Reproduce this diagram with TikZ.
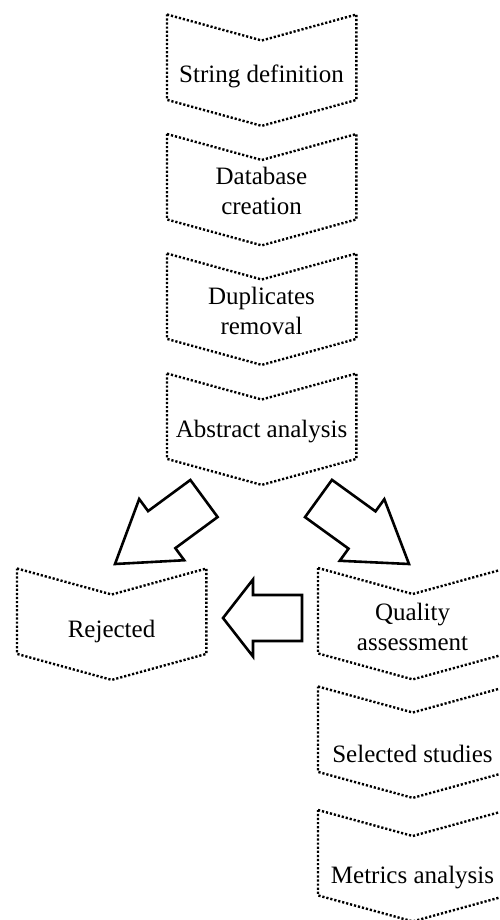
\documentclass[tikz,border=0pt]{standalone}
\usepackage{fontspec}
\setmainfont{Liberation Serif}
\usetikzlibrary{calc}
\tikzset{
  chevbox/.style={rectangle, inner sep=0pt, minimum width=189pt, minimum height=85pt, anchor=north west},
  chevline/.style={line width=2.4pt, dash pattern=on 2.2pt off 1.9pt, line join=miter},
  lbl/.style={font=\fontsize{25}{30}\selectfont, align=center, inner sep=0pt, execute at begin node=\strut},
  blockarrow/.style={line width=2.6pt, line join=miter, fill=white},
}
\newcommand\blockarr[5]{% tail, tip, head length, half shaft width, half head width
  \path coordinate (hb) at ($(#2)!#3!(#1)$);
  \draw[blockarrow] ($(#1)!#4!90:(#2)$) -- ($(hb)!#4!90:(#2)$) -- ($(hb)!#5!90:(#2)$)
     -- (#2) -- ($(hb)!#5!-90:(#2)$) -- ($(hb)!#4!-90:(#2)$) -- ($(#1)!#4!-90:(#2)$) -- cycle;
}
\begin{document}
\begin{tikzpicture}[x=1pt, y=-1pt]
\useasboundingbox (0,0) rectangle (499,920);
\clip (0,0) rectangle (499,920);
% chevron frames
\node[chevbox] (c1) at (167,14.5) {};
\node[chevbox] (c2) at (167,134) {};
\node[chevbox] (c3) at (167,253.5) {};
\node[chevbox] (c4) at (167,373.5) {};
\node[chevbox] (cr) at (17,568.5) {};
\node[chevbox] (cq) at (318,568) {};
\node[chevbox] (cs) at (318,686.5) {};
\node[chevbox] (cm) at (318,810) {};
\foreach \c in {c1,c2,c3,c4,cr,cq,cs,cm}{
  \draw[chevline] (\c.north west) -- ($(\c.north)+(0,26)$) -- (\c.north east)
     -- (\c.south east) -- ($(\c.south)+(0,26)$) -- (\c.south west) -- cycle;
}
% labels
\node[lbl] (t1) at (261.5,77) {String definition};
\node[lbl] (t2) at (261.5,195.5) {Database\\\strut creation};
\node[lbl] (t3) at (261.5,315) {Duplicates\\\strut removal};
\node[lbl] (t4) at (261.5,431) {Abstract analysis};
\node[lbl] (tr) at (111.5,631) {Rejected};
\node[lbl] (tq) at (412.5,631) {Quality\\\strut assessment};
\node[lbl] (ts) at (412.5,756) {Selected studies};
\node[lbl] (tm) at (412.5,877) {Metrics analysis};
% block arrows
\coordinate (lA) at (204,498.5);
\coordinate (lB) at (115,564);
\coordinate (rA) at (318.5,498.5);
\coordinate (rB) at (409,564);
\coordinate (hA) at (302,618);
\coordinate (hB) at (223,618);
\blockarr{lA}{lB}{58pt}{23pt}{38pt}
\blockarr{rA}{rB}{58pt}{23pt}{38pt}
\blockarr{hA}{hB}{30pt}{23pt}{38.5pt}
\end{tikzpicture}
\end{document}
